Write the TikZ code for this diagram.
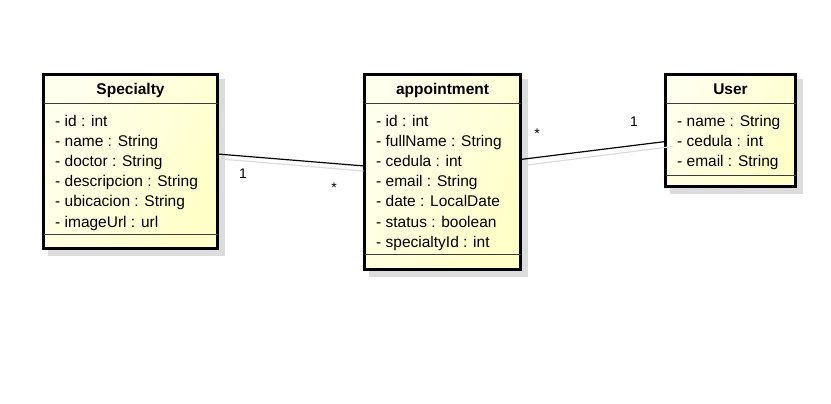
\documentclass[tikz,border=0pt]{standalone}
\usepackage{fontspec}
\setmainfont{Liberation Sans}
\usetikzlibrary{calc}
\definecolor{boxlight}{RGB}{255,255,238}
\definecolor{boxdark}{RGB}{255,255,200}
\definecolor{shadowgray}{RGB}{220,220,220}
\definecolor{sepgray}{RGB}{60,60,60}
\begin{document}
\begin{tikzpicture}[x=1pt,y=-1pt,
  classbox/.style={draw=black, line width=3pt, left color=boxlight, right color=boxdark, shading angle=60, inner sep=0pt, outer sep=0pt, anchor=north west},
  shadowbox/.style={fill=shadowgray, draw=none, inner sep=0pt, outer sep=0pt, anchor=north west},
  sepline/.style={draw=sepgray, line width=0.9pt},
  head/.style={anchor=base, inner sep=0pt, font=\fontsize{15.5}{18}\selectfont\bfseries},
  attr/.style={anchor=base west, inner sep=0pt, font=\fontsize{15.5}{18}\selectfont},
  mult/.style={anchor=base, inner sep=0pt, font=\fontsize{14}{17}\selectfont},
  assoc/.style={draw=black, line width=1.2pt},
  assocshadow/.style={draw=shadowgray, line width=1.2pt}
]
\useasboundingbox (0,0) rectangle (831,404);
\fill[white] (0,0) rectangle (831,404);

% shadows
\node[shadowbox, minimum width=177pt, minimum height=177pt] (specsh) at (48,79) {};
\node[shadowbox, minimum width=159pt, minimum height=198pt] (apptsh) at (369,79) {};
\node[shadowbox, minimum width=133pt, minimum height=115pt] (usersh) at (670,79) {};

% class boxes
\node[classbox, minimum width=174pt, minimum height=174pt] (spec) at (43.5,74.5) {};
\node[classbox, minimum width=156pt, minimum height=195pt] (appt) at (364.5,74.5) {};
\node[classbox, minimum width=130pt, minimum height=112pt] (user) at (665.5,74.5) {};

% association connection points
\coordinate (s1) at ($(spec.north east)+(0,79.5)$);
\coordinate (a1) at ($(appt.north west)+(0,91.5)$);
\coordinate (a2) at ($(appt.north east)+(0,85)$);
\coordinate (u1) at ($(user.north west)+(0,67)$);

% association shadows
\draw[assocshadow] ($(s1)+(3,5)$) -- ($(a1)+(-1,5)$);
\draw[assocshadow] ($(a2)+(3,6)$) -- ($(u1)+(7,5)$);

% associations
\draw[assoc] (s1) -- (a1);
\draw[assoc] (a2) -- (u1);

% separators
\draw[sepline] ($(spec.north west)+(0,28.5)$) -- ($(spec.north east)+(0,28.5)$);
\draw[sepline] ($(spec.north west)+(0,159.5)$) -- ($(spec.north east)+(0,159.5)$);
\draw[sepline] ($(appt.north west)+(0,28.5)$) -- ($(appt.north east)+(0,28.5)$);
\draw[sepline] ($(appt.north west)+(0,179.5)$) -- ($(appt.north east)+(0,179.5)$);
\draw[sepline] ($(user.north west)+(0,28.5)$) -- ($(user.north east)+(0,28.5)$);
\draw[sepline] ($(user.north west)+(0,100.5)$) -- ($(user.north east)+(0,100.5)$);

% Specialty
\node[head] (spech) at (130.5,95) {Specialty};
\node[attr] (spec1) at (55,126) {- id : int};
\node[attr] (spec2) at (55,146.2) {- name : String};
\node[attr] (spec3) at (55,166.4) {- doctor : String};
\node[attr] (spec4) at (55,186.6) {- descripcion : String};
\node[attr] (spec5) at (55,206.8) {- ubicacion : String};
\node[attr] (spec6) at (55,227) {- imageUrl : url};

% appointment
\node[head] (appth) at (442.5,95) {appointment};
\node[attr] (appt1) at (376,126) {- id : int};
\node[attr] (appt2) at (376,146.2) {- fullName : String};
\node[attr] (appt3) at (376,166.4) {- cedula : int};
\node[attr] (appt4) at (376,186.6) {- email : String};
\node[attr] (appt5) at (376,206.8) {- date : LocalDate};
\node[attr] (appt6) at (376,227) {- status : boolean};
\node[attr] (appt7) at (376,247.2) {- specialtyId : int};

% User
\node[head] (userh) at (730.5,95) {User};
\node[attr] (user1) at (677,126) {- name : String};
\node[attr] (user2) at (677,146.2) {- cedula : int};
\node[attr] (user3) at (677,166.4) {- email : String};

% multiplicities
\node[mult] (m1) at (243,178) {1};
\node[mult] (m2) at (334,192) {*};
\node[mult] (m3) at (537,139) {*};
\node[mult] (m4) at (634,127) {1};
\end{tikzpicture}
\end{document}
